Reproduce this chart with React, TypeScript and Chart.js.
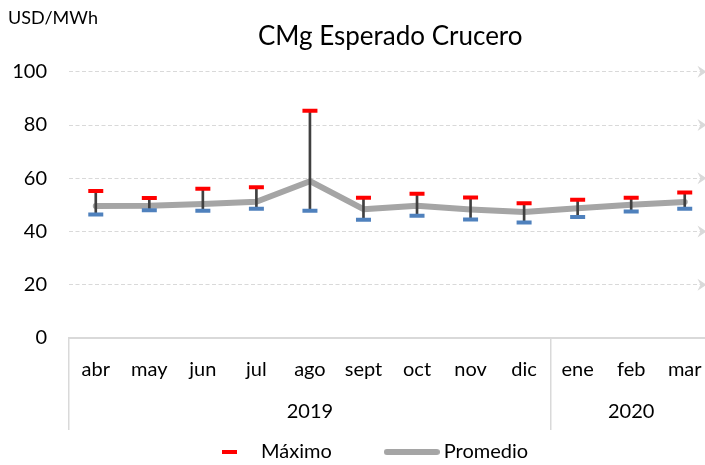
import React, { useEffect, useRef } from 'react';
import { Chart, registerables } from 'chart.js';

Chart.register(...registerables);

// ---- data ----
const months = ['abr', 'may', 'jun', 'jul', 'ago', 'sept', 'oct', 'nov', 'dic', 'ene', 'feb', 'mar'];
const years = ['2019', '2020'];
const yearSpans = [9, 3];
const maximo = [55.2, 52.6, 56.1, 56.6, 85.4, 52.7, 54.2, 52.8, 50.6, 51.9, 52.7, 54.7];
const minimo = [46.4, 48.0, 47.8, 48.6, 47.8, 44.4, 45.9, 44.5, 43.4, 45.5, 47.5, 48.6];
const promedio = [49.6, 49.7, 50.3, 51.2, 58.9, 48.4, 49.7, 48.3, 47.3, 48.7, 50.1, 51.1];
const yMin = 0;
const yMax = 100;
const yStep = 20;

const FONT = 'Lato';
const GRID = '#d9d9d9';
const RED = '#FF0000';
const BLUE = '#4F81BD';
const GRAY = '#A5A5A5';
const DARK = '#404040';

// derived year row + group edges
const yearRow: string[] = [];
const groupEdges: number[] = [0];
years.forEach((y, g) => {
  const span = yearSpans[g];
  for (let k = 0; k < span; k++) yearRow.push(k === Math.floor((span - 1) / 2) ? y : '');
  groupEdges.push(yearRow.length);
});

const LEGEND_PAD = 58;
const LEGEND_FONT = 20;

const arrowPlugin = {
  id: 'gridArrows',
  beforeDatasetsDraw(chart: any) {
    const { ctx, chartArea, scales } = chart;
    const ys = scales.y;
    ctx.save();
    ctx.fillStyle = GRID;
    ys.ticks.forEach((t: any) => {
      if (t.value <= yMin) return;
      const y = ys.getPixelForValue(t.value);
      const tip = chartArea.right - 5;
      ctx.beginPath();
      ctx.moveTo(tip, y);
      ctx.lineTo(tip - 9, y - 6);
      ctx.lineTo(tip - 6, y);
      ctx.lineTo(tip - 9, y + 6);
      ctx.closePath();
      ctx.fill();
    });
    ctx.restore();
  },
};

const legendPlace = {
  id: 'legendPlace',
  afterLayout(chart: any) {
    const lg = chart.legend;
    if (!lg) return;
    const pad = lg.options.labels.padding;
    lg.left = chart.chartArea.left + 138 - pad;
    lg.right = lg.left + 600;
    lg.top = chart.height - 23 - pad;
    lg.bottom = lg.top + lg.height;
  },
};

export default function App() {
  const ref = useRef<HTMLCanvasElement | null>(null);

  useEffect(() => {
    if (!ref.current) return;
    Chart.defaults.font.family = FONT;

    const redDash = document.createElement('canvas');
    redDash.width = 15;
    redDash.height = 4;
    const rc = redDash.getContext('2d')!;
    rc.fillStyle = RED;
    rc.fillRect(0, 0, 15, 4);

    const grayLine = document.createElement('canvas');
    grayLine.width = 56;
    grayLine.height = 6;
    const gc = grayLine.getContext('2d')!;
    gc.strokeStyle = GRAY;
    gc.lineWidth = 6;
    gc.lineCap = 'round';
    gc.beginPath();
    gc.moveTo(3, 3);
    gc.lineTo(53, 3);
    gc.stroke();

    // legend box height = itemHeight + padding + 10 ; bottom stack = 127 px
    const legendHeight = LEGEND_FONT + LEGEND_PAD + 10;
    const bottomPad = 127 - 44 - 42 - legendHeight;

    const chart = new Chart(ref.current, {
      type: 'line',
      data: {
        labels: months,
        datasets: [
          {
            type: 'line',
            label: 'Máximo',
            data: maximo,
            showLine: false,
            pointStyle: 'line',
            pointRadius: 7.5,
            pointBorderWidth: 4,
            pointBorderColor: RED,
            pointBackgroundColor: RED,
            borderColor: RED,
            order: 1,
            xAxisID: 'x',
            yAxisID: 'y',
          },
          {
            type: 'line',
            label: 'Mínimo',
            data: minimo,
            showLine: false,
            pointStyle: 'line',
            pointRadius: 7.5,
            pointBorderWidth: 4,
            pointBorderColor: BLUE,
            pointBackgroundColor: BLUE,
            borderColor: BLUE,
            order: 2,
            xAxisID: 'x',
            yAxisID: 'y',
          },
          {
            type: 'bar',
            label: 'Rango',
            data: minimo.map((v, i) => [v, maximo[i]]) as any,
            backgroundColor: DARK,
            borderWidth: 0,
            barThickness: 2,
            order: 3,
            xAxisID: 'x',
            yAxisID: 'y',
          } as any,
          {
            type: 'line',
            label: 'Promedio',
            data: promedio,
            borderColor: GRAY,
            borderWidth: 6,
            borderCapStyle: 'round',
            borderJoinStyle: 'round',
            pointRadius: 0,
            tension: 0,
            order: 4,
            xAxisID: 'x',
            yAxisID: 'y',
          },
        ],
      },
      options: {
        animation: false,
        responsive: false,
        events: [],
        layout: { padding: { left: 8, right: 2, top: 0, bottom: bottomPad } },
        scales: {
          x: {
            type: 'category',
            position: 'bottom',
            offset: true,
            grid: {
              offset: true,
              drawOnChartArea: false,
              drawTicks: true,
              tickLength: 92,
              lineWidth: 1.5,
              color: (c: any) => {
                const i = c.index === undefined ? months.length : c.index;
                return groupEdges.includes(i) ? GRID : 'rgba(0,0,0,0)';
              },
            },
            border: { display: true, color: GRID, width: 2 },
            ticks: {
              padding: -72,
              autoSkip: false,
              maxRotation: 0,
              color: '#000',
              font: { size: 20, family: FONT },
            },
            afterFit: (axis: any) => {
              axis.height = 44;
            },
          },
          x2: {
            type: 'category',
            position: 'bottom',
            labels: yearRow,
            offset: true,
            grid: { display: false, drawTicks: false },
            border: { display: false },
            ticks: {
              padding: 18,
              autoSkip: false,
              maxRotation: 0,
              color: '#000',
              font: { size: 20, family: FONT },
            },
            afterFit: (axis: any) => {
              axis.height = 42;
            },
          },
          y: {
            min: yMin,
            max: yMax,
            ticks: {
              stepSize: yStep,
              padding: 22,
              color: '#000',
              font: { size: 20, family: FONT },
            },
            grid: {
              drawTicks: false,
              lineWidth: 1,
              color: (c: any) => (c.tick && c.tick.value === yMin ? 'rgba(0,0,0,0)' : GRID),
            },
            border: { display: false, dash: [4, 2.5] },
            afterFit: (axis: any) => {
              axis.width = 61;
            },
          },
        },
        plugins: {
          tooltip: { enabled: false },
          title: {
            display: true,
            text: 'USD/MWh',
            align: 'start',
            color: '#000',
            font: { size: 18, weight: 'normal', family: FONT },
            padding: { top: 7, bottom: -8 },
          },
          subtitle: {
            display: true,
            text: 'CMg Esperado Crucero',
            fullSize: false,
            align: 'center',
            position: 'top',
            color: '#000',
            font: { size: 26, weight: 'normal', family: FONT },
            padding: { top: 0, bottom: 20 },
          },
          legend: {
            display: true,
            position: 'bottom',
            align: 'start',
            labels: {
              usePointStyle: true,
              pointStyleWidth: 44,
              padding: LEGEND_PAD,
              color: '#000',
              font: { size: LEGEND_FONT, family: FONT },
              generateLabels: () => [
                { text: 'Máximo', fillStyle: RED, strokeStyle: RED, lineWidth: 0, pointStyle: redDash, hidden: false, datasetIndex: 0 },
                { text: 'Promedio', fillStyle: GRAY, strokeStyle: GRAY, lineWidth: 0, pointStyle: grayLine, hidden: false, datasetIndex: 3 },
              ] as any,
            },
          },
        },
      } as any,
      plugins: [arrowPlugin, legendPlace],
    });
    return () => chart.destroy();
  }, []);

  return (
    <div style={{ position: 'fixed', left: 0, top: 0, width: 705, height: 465, overflow: 'hidden', background: '#fff' }}>
      <canvas ref={ref} width={723} height={465} style={{ display: 'block', width: 723, height: 465 }} />
    </div>
  );
}
